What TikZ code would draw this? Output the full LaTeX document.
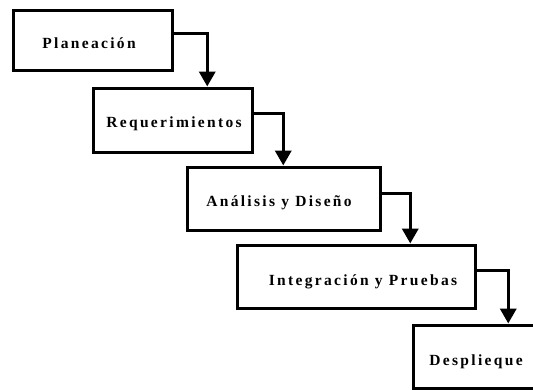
\documentclass[tikz,border=0pt]{standalone}
\usepackage{fontspec}
\setmainfont{Liberation Serif}[LetterSpace=15]
\usetikzlibrary{arrows.meta}
\begin{document}
\begin{tikzpicture}[x=1bp,y=-1bp,
  stage/.style={draw=black,line width=3.5bp,fill=white,rectangle,inner sep=0pt,anchor=north west},
  caption/.style={anchor=base,inner sep=0pt,font=\fontsize{15.5bp}{18bp}\selectfont\bfseries},
  flow/.style={draw=black,line width=3.5bp,-{Triangle[length=15bp,width=16bp]}}]
  \clip (0,0) rectangle (533,389);
  \fill[white] (0,0) rectangle (533,389);
  % stage boxes
  \node[stage,minimum width=159bp,minimum height=60bp] (b1) at (11.5,8.5) {};
  \node[stage,minimum width=159bp,minimum height=64bp] (b2) at (91.5,86.5) {};
  \node[stage,minimum width=193bp,minimum height=63bp] (b3) at (185.5,165.5) {};
  \node[stage,minimum width=238bp,minimum height=63bp] (b4) at (235.5,243.5) {};
  \node[stage,minimum width=147bp,minimum height=63bp] (b5) at (411.5,323.5) {};
  % stage names
  \node[caption] (t1) at (89,48) {Planeación};
  \node[caption] (t2) at (174,127) {Requerimientos};
  \node[caption] (t3) at (279,206) {Análisis y Diseño};
  \node[caption] (t4) at (363,285) {Integración y Pruebas};
  \node[caption] (t5) at (476,365) {Desplieque};
  % connectors
  \draw[flow] ([yshift=7bp]b1.east) -| ([xshift=34.5bp]b2.north);
  \draw[flow] ([yshift=7bp]b2.east) -| ([xshift=-0.5bp]b3.north);
  \draw[flow] ([yshift=5.5bp]b3.east) -| ([xshift=54bp]b4.north);
  \draw[flow] ([yshift=6.5bp]b4.east) -| ([xshift=21.5bp]b5.north);
\end{tikzpicture}
\end{document}
